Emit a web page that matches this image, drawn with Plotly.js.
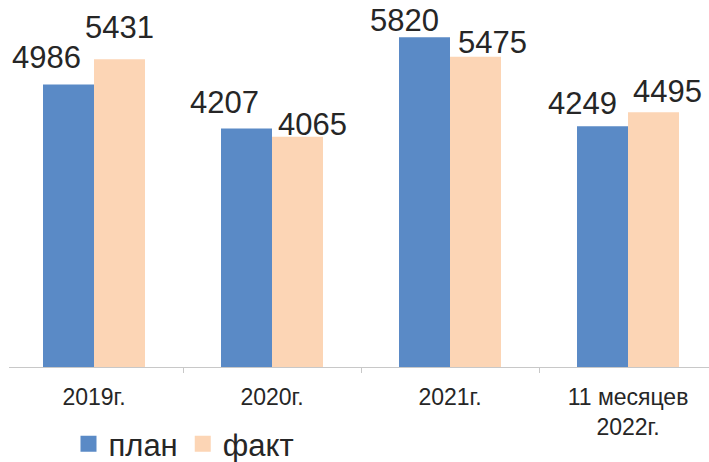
<!DOCTYPE html>
<html>
<head>
<meta charset="utf-8">
<script src="https://cdn.plot.ly/plotly-3.0.1.min.js"></script>
<style>html,body{margin:0;padding:0;background:#fff;}#chart{width:709px;height:462px;}</style>
</head>
<body>
<div id="chart"></div>
<script>
const categories = ['2019г.', '2020г.', '2021г.', '11 месяцев<br>2022г.'];
const planValues = [4986, 4207, 5820, 4249];
const factValues = [5431, 4065, 5475, 4495];
const seriesNames = ['план', 'факт'];

const colors = ['#5a8ac6', '#fcd5b5'];
const textColor = '#262626';
const FONT = 'Liberation Sans, Arial, sans-serif';

// label nudges (style only): [dx, dy] in pixels for plan / fact labels
const planNudge = [[-22, 14], [-22, 14], [-20, 4], [-20, 10]];
const factNudge = [[0, 19], [15, 0], [17, 2], [14, 8]];

const bargap = 0.427;
const half = (1 - bargap) / 4; // centre offset of each bar within its group

const traces = [
  {type: 'bar', x: categories, y: planValues, name: seriesNames[0], marker: {color: colors[0]}, showlegend: false, hoverinfo: 'none'},
  {type: 'bar', x: categories, y: factValues, name: seriesNames[1], marker: {color: colors[1]}, showlegend: false, hoverinfo: 'none'},
  {type: 'scatter', mode: 'markers', x: [null], y: [null], name: seriesNames[0], marker: {symbol: 'square', size: 16, color: colors[0]}},
  {type: 'scatter', mode: 'markers', x: [null], y: [null], name: seriesNames[1], marker: {symbol: 'square', size: 16, color: colors[1]}}
];

const annotations = [];
const DESC = 7;
planValues.forEach((v, i) => {
  annotations.push({x: i - half, y: v, xref: 'x', yref: 'y', text: String(v), showarrow: false,
    xanchor: 'center', yanchor: 'bottom', xshift: planNudge[i][0], yshift: planNudge[i][1] - DESC,
    font: {family: FONT, size: 31, color: textColor}});
});
factValues.forEach((v, i) => {
  annotations.push({x: i + half, y: v, xref: 'x', yref: 'y', text: String(v), showarrow: false,
    xanchor: 'center', yanchor: 'bottom', xshift: factNudge[i][0], yshift: factNudge[i][1] - DESC,
    font: {family: FONT, size: 31, color: textColor}});
});

const layout = {
  width: 709, height: 462,
  margin: {l: 9, r: 0, t: 27, b: 95, autoexpand: false},
  paper_bgcolor: '#ffffff', plot_bgcolor: '#ffffff',
  barmode: 'group', bargap: bargap, bargroupgap: 0,
  font: {family: FONT, color: textColor},
  xaxis: {
    type: 'category', range: [-0.4775, 3.455], automargin: false,
    showline: true, linecolor: '#c8c8c8', linewidth: 1,
    ticks: 'outside', tickson: 'boundaries', ticklen: 5, tickcolor: '#c8c8c8', tickwidth: 1,
    ticklabelstandoff: 9,
    tickfont: {family: FONT, size: 23, color: textColor},
    showgrid: false, zeroline: false, fixedrange: true
  },
  yaxis: {range: [0, 6000], visible: false, fixedrange: true},
  showlegend: true,
  legend: {
    orientation: 'h', x: 0.085, xanchor: 'left', y: -0.227, yanchor: 'middle',
    font: {family: FONT, size: 31, color: textColor},
    bgcolor: 'rgba(0,0,0,0)'
  },
  annotations: annotations
};

Plotly.newPlot('chart', traces, layout, {displayModeBar: false, staticPlot: true});
</script>
</body>
</html>
